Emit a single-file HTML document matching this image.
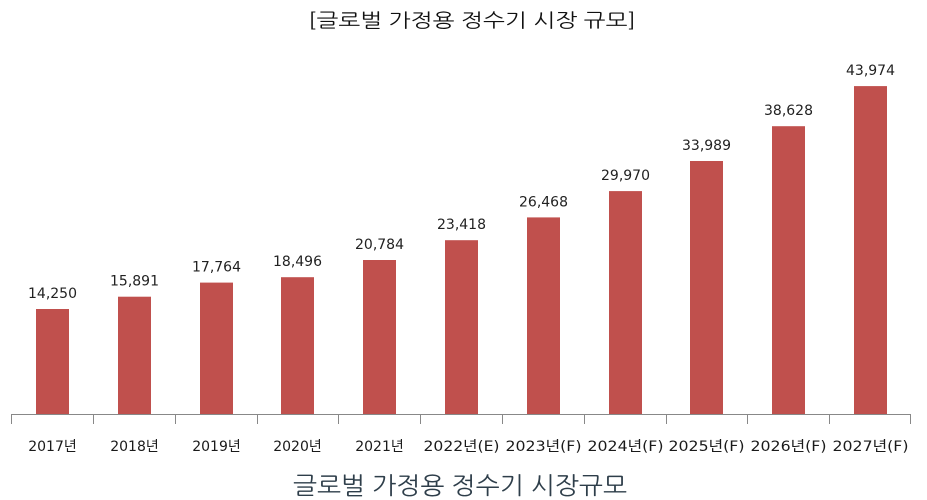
<!DOCTYPE html>
<html><head><meta charset="utf-8"><style>
html,body{margin:0;padding:0;background:#fff;}
svg{display:block;}
</style></head><body>
<svg width="927" height="500" xmlns="http://www.w3.org/2000/svg" font-family="'DejaVu Sans','Noto Sans CJK KR',sans-serif">
<rect width="927" height="500" fill="#fff"/>
<text x="472" y="27" text-anchor="middle" font-size="19" fill="#111" font-family="'NanumGothic','Noto Sans CJK KR',sans-serif" textLength="328" lengthAdjust="spacingAndGlyphs">[글로벌 가정용 정수기 시장 규모]</text>
<g fill="#c0504d">
<rect x="36" y="309" width="33" height="105"/>
<rect x="118" y="296.7" width="33" height="117.3"/>
<rect x="200" y="282.6" width="33" height="131.4"/>
<rect x="281" y="277.2" width="33" height="136.8"/>
<rect x="363" y="260" width="33" height="154"/>
<rect x="445" y="240.2" width="33" height="173.8"/>
<rect x="527" y="217.4" width="33" height="196.6"/>
<rect x="609" y="191.1" width="33" height="222.9"/>
<rect x="690" y="161" width="33" height="253"/>
<rect x="772" y="126.2" width="33" height="287.8"/>
<rect x="854" y="86.1" width="33" height="327.9"/>
</g>
<g stroke="#888" stroke-width="1">
<line x1="11" y1="414.5" x2="911" y2="414.5"/>
<line x1="11.5" y1="414" x2="11.5" y2="424"/><line x1="93.5" y1="414" x2="93.5" y2="424"/><line x1="175.5" y1="414" x2="175.5" y2="424"/><line x1="257.5" y1="414" x2="257.5" y2="424"/><line x1="338.5" y1="414" x2="338.5" y2="424"/><line x1="420.5" y1="414" x2="420.5" y2="424"/><line x1="502.5" y1="414" x2="502.5" y2="424"/><line x1="584.5" y1="414" x2="584.5" y2="424"/><line x1="666.5" y1="414" x2="666.5" y2="424"/><line x1="747.5" y1="414" x2="747.5" y2="424"/><line x1="829.5" y1="414" x2="829.5" y2="424"/><line x1="910.5" y1="414" x2="910.5" y2="424"/>
</g>
<g font-size="14" fill="#222" text-anchor="middle">
<text x="52.5" y="298">14,250</text>
<text x="134.5" y="285.7">15,891</text>
<text x="216.5" y="271.6">17,764</text>
<text x="297.5" y="266.2">18,496</text>
<text x="379.5" y="249">20,784</text>
<text x="461.5" y="229.2">23,418</text>
<text x="543.5" y="206.4">26,468</text>
<text x="625.5" y="180.1">29,970</text>
<text x="706.5" y="150">33,989</text>
<text x="788.5" y="115.2">38,628</text>
<text x="870.5" y="75.1">43,974</text>
</g>
<g font-size="14" fill="#1a1a1a" text-anchor="middle">
<text x="52.5" y="451">2017년</text>
<text x="134.5" y="451">2018년</text>
<text x="216.5" y="451">2019년</text>
<text x="297.5" y="451">2020년</text>
<text x="379.5" y="451">2021년</text>
<text x="461.5" y="451" textLength="76" lengthAdjust="spacingAndGlyphs">2022년(E)</text>
<text x="543.5" y="451" textLength="76" lengthAdjust="spacingAndGlyphs">2023년(F)</text>
<text x="625.5" y="451" textLength="76" lengthAdjust="spacingAndGlyphs">2024년(F)</text>
<text x="706.5" y="451" textLength="76" lengthAdjust="spacingAndGlyphs">2025년(F)</text>
<text x="788.5" y="451" textLength="76" lengthAdjust="spacingAndGlyphs">2026년(F)</text>
<text x="870.5" y="451" textLength="76" lengthAdjust="spacingAndGlyphs">2027년(F)</text>
</g>
<text x="460" y="494" text-anchor="middle" font-size="24" fill="#2e3e4a" font-family="'NanumGothic','Noto Sans CJK KR',sans-serif" textLength="334" lengthAdjust="spacingAndGlyphs">글로벌 가정용 정수기 시장규모</text>
</svg>
</body></html>
